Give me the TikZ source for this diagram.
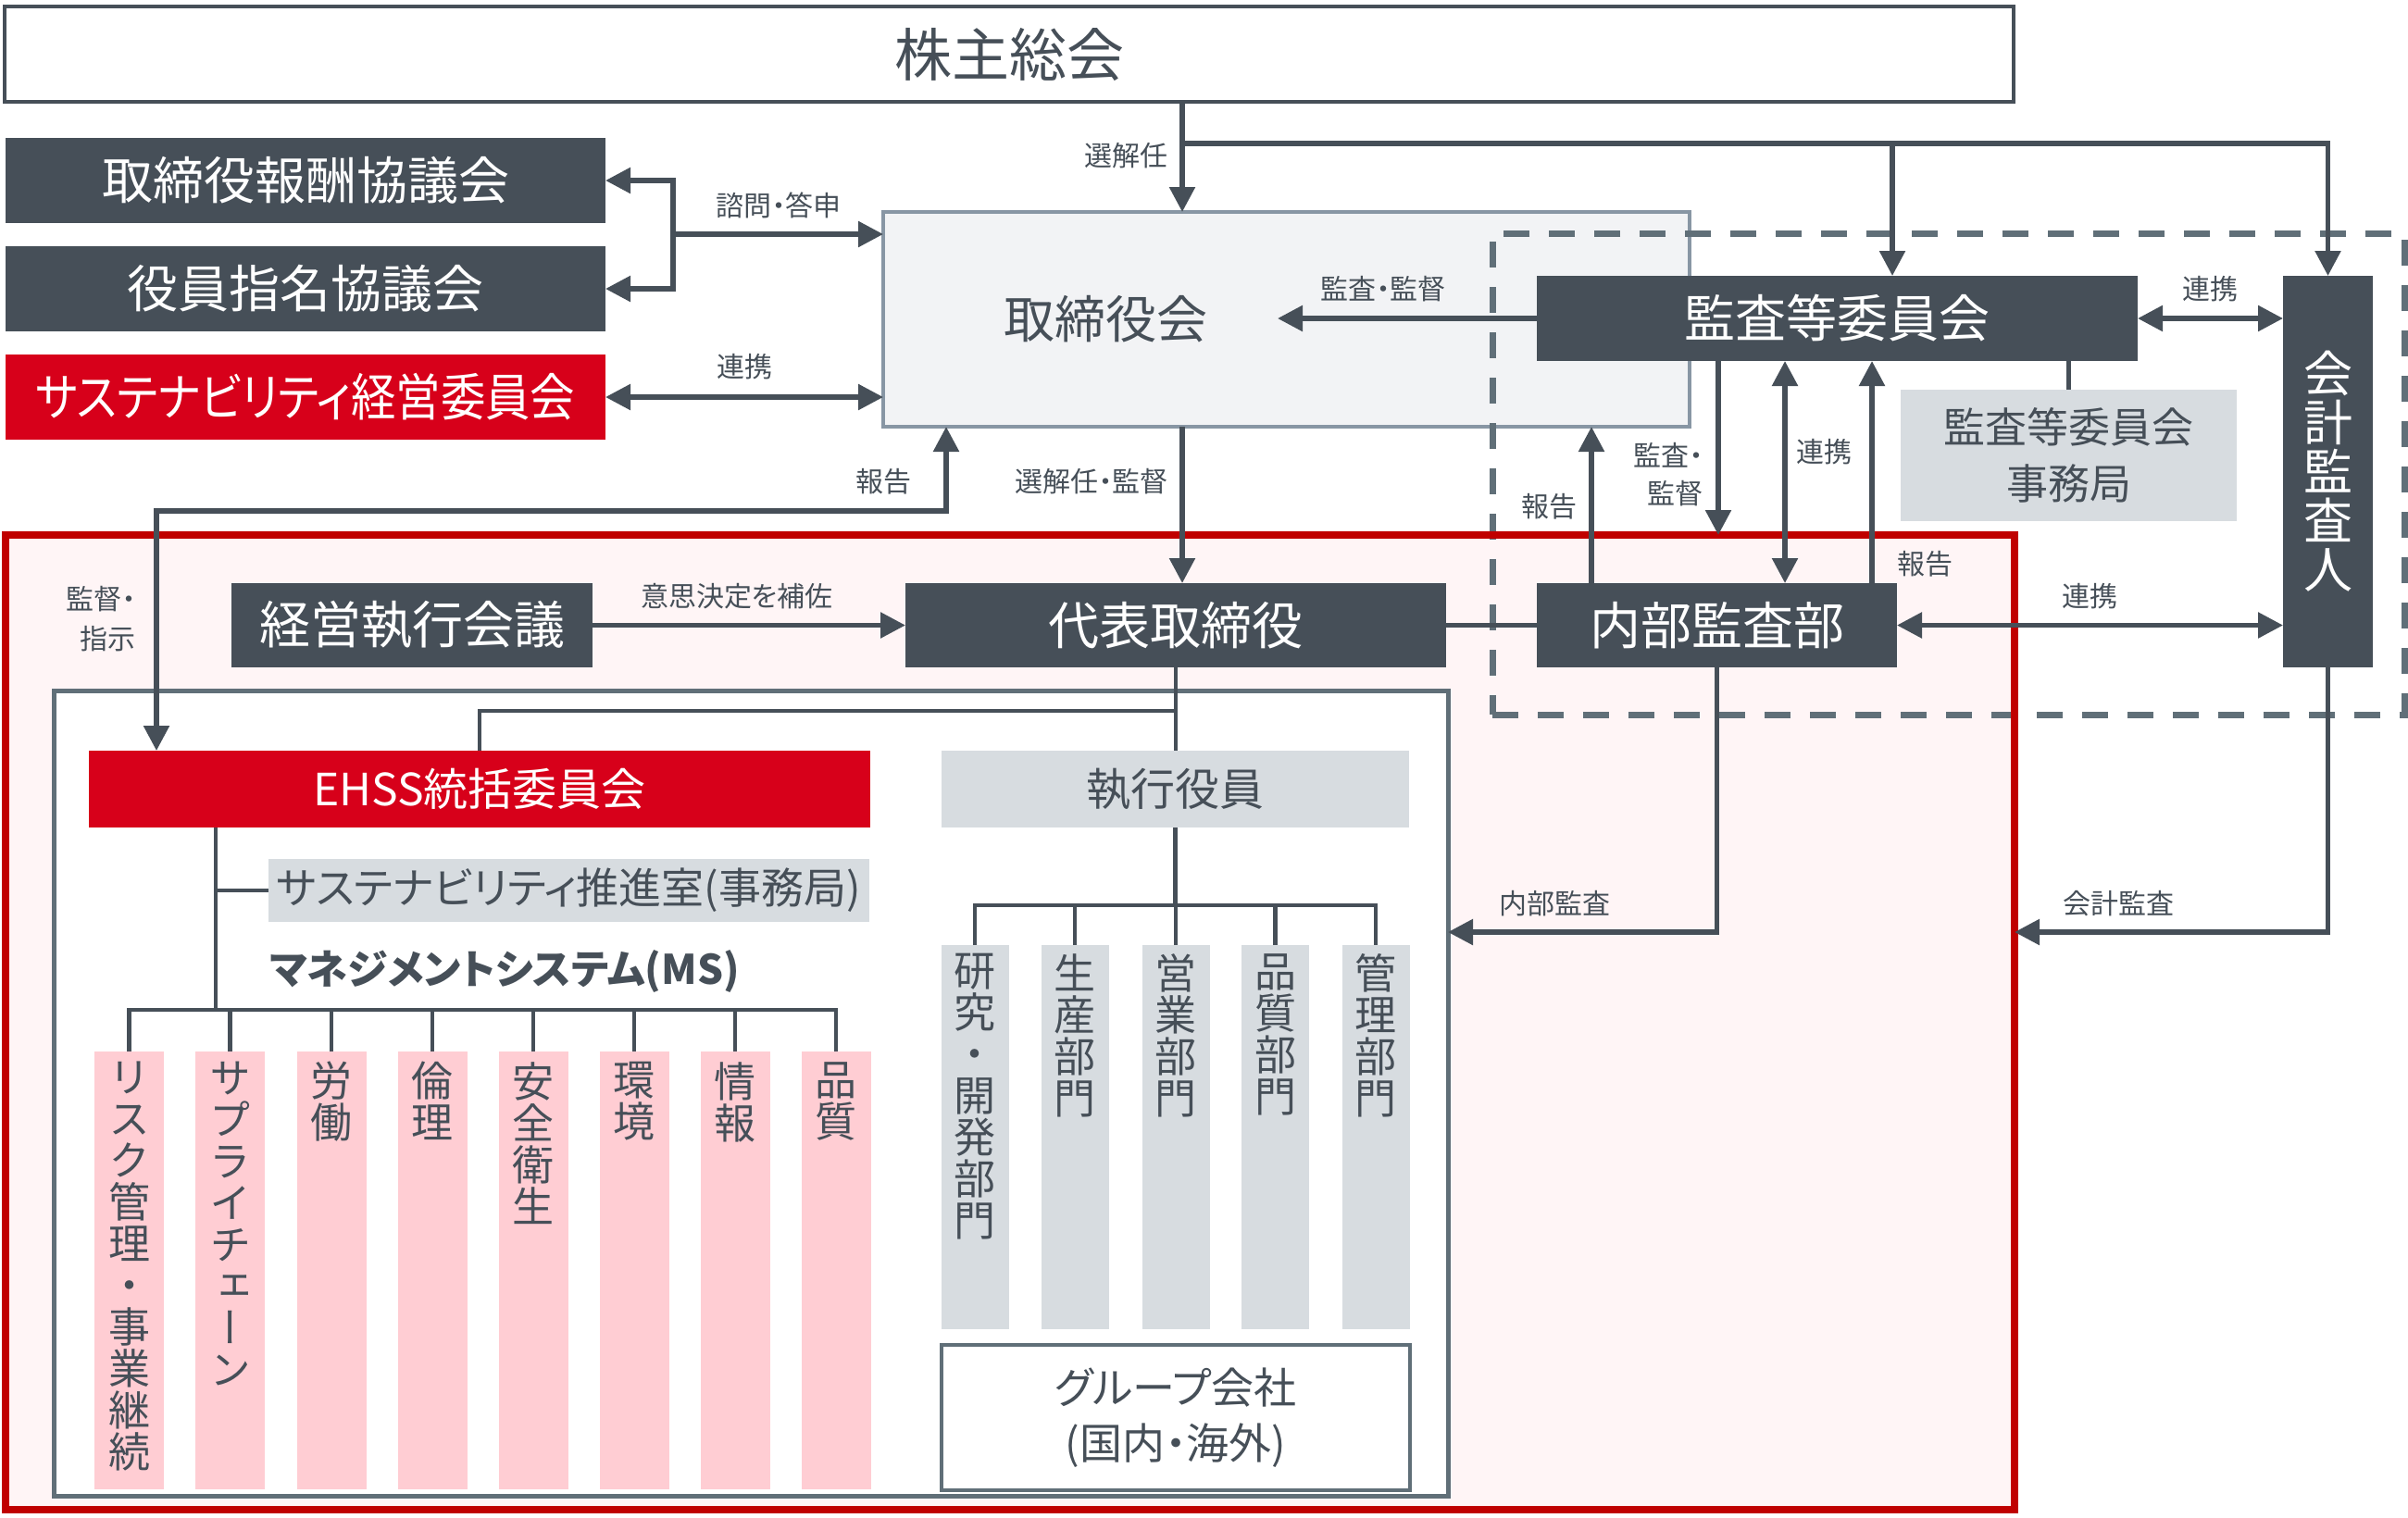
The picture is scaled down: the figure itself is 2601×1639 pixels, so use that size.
\documentclass[tikz,border=0pt]{standalone}
\usepackage{graphicx}
\usepackage{fontspec}
\setmainfont{Noto Sans CJK JP}[RawFeature=+palt]
\newfontfamily\vfont{Noto Sans CJK JP}[RawFeature=+vert]
\usetikzlibrary{arrows.meta}
\definecolor{dk}{HTML}{464F58}
\definecolor{rd}{HTML}{D7001A}
\definecolor{fr}{HTML}{C00000}
\definecolor{pk}{HTML}{FFCDD3}
\definecolor{lg}{HTML}{D7DCE0}
\definecolor{tf}{HTML}{F2F3F5}
\definecolor{tb}{HTML}{8896A4}
\definecolor{dg}{HTML}{606F78}
\definecolor{ff}{HTML}{FFF5F6}
\newcommand\myfs[2]{\fontsize{#1}{#2}\selectfont}
\begin{document}
\begin{tikzpicture}[x=1pt,y=-1pt,
  box/.style={rectangle, inner sep=0pt, outer sep=0pt, anchor=center},
  darkbox/.style={box, fill=dk, text=white},
  redbox/.style={box, fill=rd, text=white},
  greybox/.style={box, fill=lg, text=dk},
  pinkbox/.style={box, fill=pk, minimum width=75pt, minimum height=473pt},
  deptbox/.style={box, fill=lg, minimum width=73pt, minimum height=415pt},
  vt/.style={anchor=north, inner sep=0pt, align=center, text=dk, font=\vfont\myfs{45}{45}},
  lbl/.style={text=dk, font=\myfs{30}{41}, inner sep=0pt},
  conn/.style={draw=dk, line width=5.5pt},
  arr/.style={conn, -{Triangle[length=27pt,width=27pt]}},
  dbl/.style={conn, {Triangle[length=27pt,width=27pt]}-{Triangle[length=27pt,width=27pt]}},
  tree/.style={draw=dk, line width=4.5pt},
]
\useasboundingbox (0,0) rectangle (2601,1639);

% top
\node[box, draw=dk, line width=4.5pt, fill=white, minimum width=2170pt, minimum height=103pt, text=dk, font=\myfs{62}{62}] (kabu) at (1090,58.5) {株主総会};
\node[darkbox, minimum width=648pt, minimum height=92pt, font=\myfs{55}{55}] (housyu) at (330,195) {取締役報酬協議会};
\node[darkbox, minimum width=648pt, minimum height=92pt, font=\myfs{55}{55}] (shimei) at (330,312) {役員指名協議会};
\node[redbox, minimum width=648pt, minimum height=92pt, font=\myfs{55}{55}] (sustkeiei) at (330,429) {\scalebox{0.88}[1]{サステナビリティ経営委員会}};

\node[box, fill=tf, draw=tb, line width=4pt, minimum width=871pt, minimum height=232pt] (torishimari) at (1389.5,345) {};
\node[inner sep=0pt, text=dk, font=\myfs{55}{55}] (torilabel) at (1194,345) {取締役会};

% execution frame
\node[box, fill=ff, minimum width=2170pt, minimum height=1053pt] (exec) at (1091,1104.5) {};
\node[box, draw=dg, line width=7pt, dash pattern=on 28pt off 21pt, minimum width=985pt, minimum height=520pt] (auditgrp) at (2104.5,512) {};
\draw[draw=fr, line width=8pt] (exec.north west) rectangle (exec.south east);
\node[box, fill=white, draw=dg, line width=5pt, minimum width=1506pt, minimum height=870pt] (inner) at (811,1181) {};

% audit side
\node[darkbox, minimum width=649pt, minimum height=92pt, font=\myfs{55}{55}] (kansatou) at (1984.5,344) {監査等委員会};
\node[darkbox, minimum width=97pt, minimum height=423pt, align=center, font=\myfs{53}{53}] (kaikei) at (2514.5,509.5) {会\\計\\監\\査\\人};
\node[greybox, minimum width=363pt, minimum height=142pt, align=center, font=\myfs{45}{61}] (jimukyoku) at (2234.5,492) {監査等委員会\\事務局};
\node[darkbox, minimum width=389pt, minimum height=91pt, font=\myfs{55}{55}] (naibu) at (1854.5,675.5) {内部監査部};

% execution
\node[darkbox, minimum width=390pt, minimum height=91pt, font=\myfs{55}{55}] (keiei) at (445,675.5) {経営執行会議};
\node[darkbox, minimum width=584pt, minimum height=91pt, font=\myfs{55}{55}] (daihyo) at (1270,675.5) {代表取締役};
\node[redbox, minimum width=844pt, minimum height=83pt, font=\myfs{48}{48}] (ehss) at (518,852.5) {EHSS統括委員会};
\node[greybox, minimum width=505pt, minimum height=83pt, font=\myfs{48}{48}] (shikko) at (1269.5,852.5) {執行役員};
\node[greybox, minimum width=649pt, minimum height=68pt, font=\myfs{46}{46}] (suishin) at (614.5,962) {サステナビリティ推進室(事務局)};
\node[anchor=west, inner sep=0pt, text=dk, font=\bfseries\myfs{44}{44}] (ms) at (291,1049) {マネジメントシステム(MS)};

% MS boxes
\node[pinkbox] (p1) at (139.5,1372.5) {};
\node[pinkbox] (p2) at (248.5,1372.5) {};
\node[pinkbox] (p3) at (358,1372.5) {};
\node[pinkbox] (p4) at (467,1372.5) {};
\node[pinkbox] (p5) at (576,1372.5) {};
\node[pinkbox] (p6) at (685,1372.5) {};
\node[pinkbox] (p7) at (794,1372.5) {};
\node[pinkbox] (p8) at (903,1372.5) {};
\node[vt] (p1t) at ([yshift=-11pt]p1.north) {リ\\ス\\ク\\管\\理\\・\\事\\業\\継\\続};
\node[vt] (p2t) at ([yshift=-11pt]p2.north) {サ\\プ\\ラ\\イ\\チ\\ェ\\ー\\ン};
\node[vt] (p3t) at ([yshift=-11pt]p3.north) {労\\働};
\node[vt] (p4t) at ([yshift=-11pt]p4.north) {倫\\理};
\node[vt] (p5t) at ([yshift=-11pt]p5.north) {安\\全\\衛\\生};
\node[vt] (p6t) at ([yshift=-11pt]p6.north) {環\\境};
\node[vt] (p7t) at ([yshift=-11pt]p7.north) {情\\報};
\node[vt] (p8t) at ([yshift=-11pt]p8.north) {品\\質};

% departments
\node[deptbox] (d1) at (1053,1228.5) {};
\node[deptbox] (d2) at (1161,1228.5) {};
\node[deptbox] (d3) at (1270,1228.5) {};
\node[deptbox] (d4) at (1377.5,1228.5) {};
\node[deptbox] (d5) at (1486,1228.5) {};
\node[vt] (d1t) at ([yshift=-9pt]d1.north) {研\\究\\・\\開\\発\\部\\門};
\node[vt] (d2t) at ([yshift=-9pt]d2.north) {生\\産\\部\\門};
\node[vt] (d3t) at ([yshift=-9pt]d3.north) {営\\業\\部\\門};
\node[vt] (d4t) at ([yshift=-9pt]d4.north) {品\\質\\部\\門};
\node[vt] (d5t) at ([yshift=-9pt]d5.north) {管\\理\\部\\門};
\node[box, fill=white, draw=dg, line width=4pt, minimum width=506pt, minimum height=157pt, align=center, text=dk, font=\myfs{46}{60}] (group) at (1270,1531.5) {グループ会社\\(国内・海外)};

% connectors
\coordinate (sk) at (1277,155);
\coordinate (skk) at (2044,155);
\draw[arr] (sk |- kabu.south) -- (sk |- torishimari.north);
\draw[arr] (sk) -- (kaikei.north |- sk) -- (kaikei.north);
\draw[arr] (skk) -- (skk |- kansatou.north);

\coordinate (br) at (727,253);
\draw[dbl] (housyu.east) -- (br |- housyu.east) -- (br |- shimei.east) -- (shimei.east);
\draw[arr] (br) -- (br -| torishimari.west);
\draw[dbl] (sustkeiei.east) -- (sustkeiei.east -| torishimari.west);

\coordinate (kk) at (1380,345);
\draw[arr] (kansatou.west) -- (kansatou.west -| kk);
\draw[dbl] (kansatou.east) -- (kansatou.east -| kaikei.west);

\coordinate (xa) at (1856,0);
\coordinate (xb) at (1928,0);
\coordinate (xc) at (2022,0);
\coordinate (xd) at (1719,0);
\draw[arr] (xa |- kansatou.south) -- (xa |- exec.north);
\draw[dbl] (xb |- kansatou.south) -- (xb |- naibu.north);
\draw[arr] (xc |- naibu.north) -- (xc |- kansatou.south);
\draw[arr] (xd |- naibu.north) -- (xd |- torishimari.south);
\draw[tree] (daihyo.east) -- (naibu.west);
\draw[dbl] (naibu.east) -- (naibu.east -| kaikei.west);
\draw[tree] (jimukyoku.north) -- (jimukyoku.north |- kansatou.south);

\coordinate (ya) at (0,1007);
\draw[arr] (naibu.south) -- (naibu.south |- ya) -- (inner.east |- ya);
\draw[arr] (kaikei.south) -- (kaikei.south |- ya) -- (exec.east |- ya);

\draw[arr] (keiei.east) -- (daihyo.west);
\draw[arr] (sk |- torishimari.south) -- (sk |- daihyo.north);
\coordinate (ra) at (169,552);
\coordinate (rb) at (1022,552);
\draw[dbl] (ra |- ehss.north) -- (ra) -- (rb) -- (rb |- torishimari.south);

% trees
\coordinate (yb) at (0,768);
\coordinate (yc) at (0,978);
\coordinate (yd) at (0,1091);
\coordinate (xe) at (233,0);
\draw[tree] (daihyo.south) -- (daihyo.south |- shikko.north);
\draw[tree] (daihyo.south |- yb) -- (ehss.north |- yb) -- (ehss.north);
\draw[tree] (shikko.south) -- (shikko.south |- yc);
\draw[tree] (d1.north) -- (d1.north |- yc) -- (d5.north |- yc) -- (d5.north);
\foreach \d in {d2,d3,d4} \draw[tree] (\d.north) -- (\d.north |- yc);
\draw[tree] (xe |- ehss.south) -- (xe |- yd);
\draw[tree] (xe |- suishin.west) -- (suishin.west);
\draw[tree] (p1.north) -- (p1.north |- yd) -- (p8.north |- yd) -- (p8.north);
\foreach \p in {p2,p3,p4,p5,p6,p7} \draw[tree] (\p.north) -- (\p.north |- yd);

% labels
\node[lbl, anchor=east] (l1) at (1262,168) {選解任};
\node[lbl] (l2) at (841,222) {諮問・答申};
\node[lbl] (l3) at (804,396) {連携};
\node[lbl] (l4) at (954,520) {報告};
\node[lbl, anchor=east] (l5) at (1262,520) {選解任・監督};
\node[lbl] (l6) at (1494,312) {監査・監督};
\node[lbl] (l7) at (2387,312) {連携};
\node[lbl] (l8) at (1673,547) {報告};
\node[lbl, anchor=east, align=right] (l9) at (1840,512.5) {監査・\\監督};
\node[lbl] (l10) at (1970,488) {連携};
\node[lbl] (l11) at (2079,609) {報告};
\node[lbl] (l12) at (2257,644) {連携};
\node[lbl] (l13) at (1679,976) {内部監査};
\node[lbl] (l14) at (2288,976) {会計監査};
\node[lbl] (l15) at (796,644) {意思決定を補佐};
\node[lbl, anchor=east, align=right, font=\myfs{30}{43}] (l16) at (147,668.5) {監督・\\指示};
\end{tikzpicture}
\end{document}
